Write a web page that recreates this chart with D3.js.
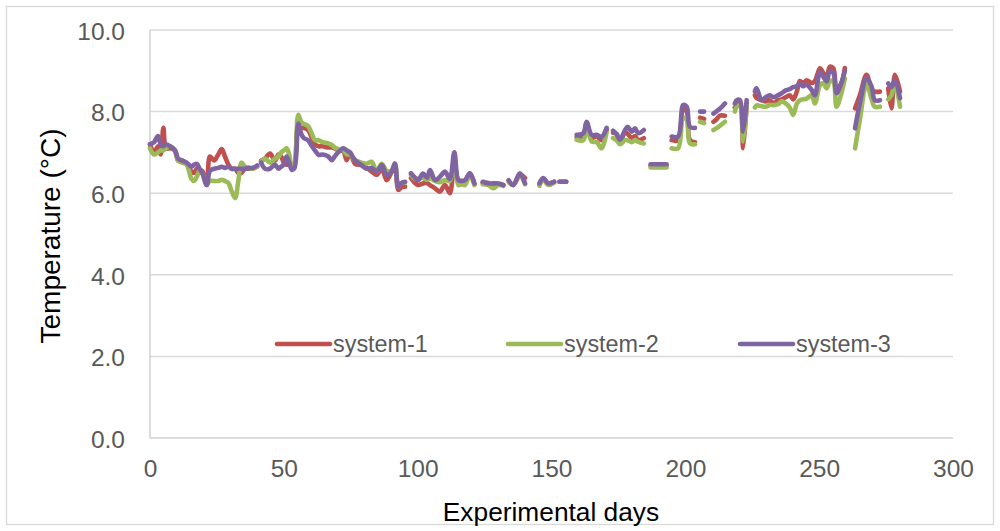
<!DOCTYPE html>
<html><head><meta charset="utf-8">
<script src="https://cdn.jsdelivr.net/npm/d3@7"></script>
<style>body{margin:0;background:#fff}svg{display:block}</style>
</head><body>
<svg id="c" width="1000" height="531"></svg>
<script>
const days = [0,1.5,3,4,5,6,7.5,9.3,10.5,12,13.7,15.5,16.5,17.5,18.5,19.5,21.2,22.4,24,25.5,26.8,28,29.3,30.5,31.8,33,34.2,35.5,37,38.5,40,40.7,
41.5,43,44.8,46.7,48,49,50,51,52,53,54,55.4,56.5,57.5,59,60.5,61.6,63,64.5,66.6,67.9,69,70.3,72.2,73.5,74.7,76.6,79,81,82.8,84.7,86.6,88.4,90.3,91.5,92.8,94,95.3,96.3,
97.5,99,100.2,102,103.5,104.6,106.5,108.3,110.2,112,113.7,115.2,116.5,117.7,119.5,121.2,122.5,
124.3,126.4,128.2,130.1,132,133,
134,135.7,138.2,140.1,142,
145.5,146.9,148.8,151,152,
153,155.5,157,
159.4,161.9,163.1,165,166.9,168.7,170.6,171.8,
173,174.3,175.6,177.5,178.5,180,181.2,182.4,184.5,185.8,
187,193,194,
194.9,197.3,199.2,200.5,201.7,203.6,204.5,
205.5,207,209,
210.5,211.5,212.9,214.8,216.5,
218.5,219.2,220.4,221.6,222.9,224.5,
226,226.6,228.5,230,231.5,233,234.6,236,237.5,239,240.3,241.7,242.8,244,245.3,247.2,248.4,250.3,251.5,252.8,254,255.3,256.5,258.3,259.6,261,
263.4,265.2,267.7,269.6,270.8,272.7,274,
275.8,277,278.3,280.2];

const system1 = [7.2,7.0,7.15,6.95,7.6,7.1,7.1,7.05,6.8,6.8,6.72,6.53,6.5,6.6,6.5,6.55,6.2,6.9,6.8,6.95,7.08,6.9,6.7,6.6,6.6,6.5,6.5,6.6,6.6,6.62,6.65,null,
6.8,6.85,6.97,6.8,6.95,6.9,6.75,6.7,6.7,6.65,6.7,7.63,7.6,7.6,7.55,7.35,7.2,7.15,7.15,7.12,7.12,7.1,7.05,7.03,6.81,7.0,6.72,6.69,6.62,6.53,6.45,6.6,6.32,6.53,6.7,6.08,6.15,6.16,null,
6.37,6.25,6.2,6.24,6.25,6.2,6.12,6.04,6.2,6.0,6.65,6.32,6.3,6.28,6.48,6.22,null,
6.25,6.25,6.15,6.22,6.2,null,
6.3,6.2,6.45,6.37,null,
6.22,6.35,6.24,6.28,null,
6.28,6.28,null,
7.37,7.4,7.7,7.35,7.4,7.3,7.55,null,
7.48,7.45,7.25,7.5,7.45,7.35,7.4,7.3,7.35,null,
6.68,6.68,null,
7.3,7.3,8.05,8.0,7.3,7.25,null,
7.85,7.82,null,
7.75,7.8,7.9,7.9,null,
8.1,8.15,8.2,7.1,8.2,null,
8.4,8.33,8.28,8.25,8.28,8.2,8.28,8.3,8.35,8.4,8.3,8.5,8.75,8.7,8.77,8.7,8.75,9.06,8.95,8.85,9.1,9.06,8.55,8.7,9.07,null,
8.08,8.4,8.9,8.55,8.49,8.49,null,
8.57,8.08,8.9,8.49];

const system2 = [7.1,6.95,7.0,7.05,7.05,7.1,7.15,7.05,6.8,6.75,6.7,6.35,6.3,6.4,6.55,6.5,6.22,6.3,6.3,6.3,6.33,6.3,6.25,6.05,5.88,6.3,6.75,6.65,6.62,6.6,6.65,null,
6.77,6.85,6.75,6.85,6.9,7.0,7.05,7.1,6.95,6.6,6.7,7.92,7.75,7.7,7.65,7.45,7.3,7.3,7.25,7.22,7.18,7.12,7.08,7.05,6.95,6.95,6.81,6.75,6.72,6.77,6.53,6.72,6.55,6.55,6.7,6.16,6.25,6.26,null,
6.45,6.35,6.36,6.37,6.33,6.37,6.3,6.27,6.32,6.3,6.85,6.2,6.22,6.2,6.45,6.2,null,
6.22,6.2,6.12,6.2,6.18,null,
6.28,6.2,6.42,6.22,null,
6.18,6.33,6.2,6.26,null,
6.28,6.28,null,
7.31,7.3,7.63,7.27,7.25,7.1,7.5,null,
7.35,7.3,7.2,7.3,7.3,7.25,7.3,7.26,7.22,null,
6.63,6.63,null,
7.1,7.1,7.84,7.8,7.22,7.2,null,
7.75,7.72,null,
7.55,7.59,7.65,7.75,null,
8.0,8.12,8.15,7.27,8.15,null,
8.1,8.15,8.13,8.12,8.16,8.16,8.18,8.25,8.2,8.1,7.92,8.2,8.28,8.3,8.32,8.4,8.2,8.65,8.7,8.57,8.75,8.73,8.12,8.45,8.81,null,
7.1,7.8,8.69,8.3,8.12,8.12,null,
8.3,8.4,8.69,8.12];

const system3 = [7.2,7.25,7.4,7.2,7.15,7.2,7.15,7.05,6.85,6.8,6.75,6.65,6.7,6.72,6.6,6.5,6.2,6.55,6.6,6.62,6.65,6.62,6.65,6.6,6.6,6.6,6.6,6.6,6.62,6.62,6.68,null,
6.75,6.6,6.6,6.7,6.6,6.65,6.7,6.9,6.75,6.57,6.62,7.71,7.45,7.35,7.3,7.15,7.05,6.94,6.95,6.9,6.81,6.9,7.0,7.1,7.05,7.0,6.81,6.69,6.6,6.62,6.53,6.69,6.45,6.53,6.73,6.16,6.25,6.28,null,
6.49,6.38,6.32,6.48,6.38,6.57,6.32,6.4,6.53,6.35,7.0,6.32,6.3,6.32,6.49,6.24,null,
6.28,6.24,6.24,6.24,6.2,null,
6.32,6.2,6.49,6.24,null,
6.24,6.37,6.24,6.28,null,
6.28,6.28,null,
7.43,7.47,7.75,7.43,7.43,7.38,7.6,null,
7.53,7.45,7.31,7.55,7.63,7.51,7.59,7.47,7.55,null,
6.71,6.71,null,
7.39,7.39,8.16,8.12,7.63,7.6,null,
8.0,8.0,null,
7.95,8.0,8.07,8.2,null,
8.2,8.28,8.28,7.51,8.28,null,
8.5,8.57,8.28,8.35,8.4,8.35,8.4,8.45,8.52,8.55,8.6,8.62,8.69,8.62,8.66,8.53,8.4,8.97,8.86,8.74,9.0,8.95,8.45,8.7,9.0,null,
7.59,8.2,8.82,8.61,8.28,8.28,null,
8.69,8.6,8.77,8.33];

const seriesNames = ["system-1","system-2","system-3"];
const seriesColors = ["#C0504D","#9BBB59","#8064A2"];
const yTicks = [0,2,4,6,8,10];
const xTicks = [0,50,100,150,200,250,300];

[system1,system2,system3].forEach((s,k)=>{
  if (s.length !== days.length) throw new Error("length mismatch series "+(k+1)+": "+s.length+" vs "+days.length);
});

const svg = d3.select("#c");
const W = 1000, H = 531;
const mLeft = 150, mRight = 953, mTop = 30, mBottom = 438;
const x = d3.scaleLinear().domain([0,300]).range([mLeft,mRight]);
const y = d3.scaleLinear().domain([0,10]).range([mBottom,mTop]);
const font = "'Liberation Sans', Arial, sans-serif";

svg.append("rect").attr("x",6.5).attr("y",6.5).attr("width",W-13).attr("height",H-13)
  .attr("fill","#fff").attr("stroke","#d9d9d9").attr("stroke-width",1.3);

svg.append("g").selectAll("line").data(yTicks.filter(d=>d>0)).join("line")
  .attr("x1",mLeft).attr("x2",mRight).attr("y1",d=>y(d)).attr("y2",d=>y(d))
  .attr("stroke","#d9d9d9").attr("stroke-width",1.5);

svg.append("line").attr("x1",mLeft).attr("x2",mLeft).attr("y1",mTop).attr("y2",mBottom)
  .attr("stroke","#d0d0d0").attr("stroke-width",1.5);
svg.append("line").attr("x1",mLeft).attr("x2",mRight).attr("y1",mBottom).attr("y2",mBottom)
  .attr("stroke","#d0d0d0").attr("stroke-width",1.5);

const yAxis = d3.axisLeft(y).tickValues(yTicks).tickFormat(d3.format(".1f")).tickSize(0).tickPadding(25);
const gy = svg.append("g").attr("transform",`translate(${mLeft},0)`).call(yAxis);
gy.select(".domain").remove();
gy.selectAll("text").attr("font-family",font).attr("font-size",24.5).attr("fill","#595959").attr("dy","0.38em");

const xAxis = d3.axisBottom(x).tickValues(xTicks).tickFormat(d3.format("d")).tickSize(0).tickPadding(22);
const gx = svg.append("g").attr("transform",`translate(0,${mBottom})`).call(xAxis);
gx.select(".domain").remove();
gx.selectAll("text").attr("font-family",font).attr("font-size",24.5).attr("fill","#595959");

svg.append("text").attr("transform",`translate(60,236) rotate(-90)`).attr("text-anchor","middle")
  .attr("font-family",font).attr("font-size",28).attr("fill","#000").text("Temperature (°C)");
svg.append("text").attr("x",551).attr("y",521).attr("text-anchor","middle")
  .attr("font-family",font).attr("font-size",26.3).attr("fill","#000").text("Experimental days");

const all = [system1, system2, system3];
all.forEach((vals,k)=>{
  const pts = days.map((d,i)=>[d, vals[i]]);
  const line = d3.line().defined(p=>p[1]!=null).x(p=>x(p[0])).y(p=>y(p[1])).curve(d3.curveCatmullRom.alpha(0.5));
  svg.append("path").datum(pts).attr("d",line).attr("fill","none")
    .attr("stroke",seriesColors[k]).attr("stroke-width",4.6).attr("stroke-linecap","round").attr("stroke-linejoin","round");
});

const legX = [277,508,740];
seriesNames.forEach((n,k)=>{
  const g = svg.append("g");
  g.append("line").attr("x1",legX[k]).attr("x2",legX[k]+53).attr("y1",344).attr("y2",344)
    .attr("stroke",seriesColors[k]).attr("stroke-width",4.6).attr("stroke-linecap","round");
  g.append("text").attr("x",legX[k]+56).attr("y",344).attr("dy","0.36em")
    .attr("font-family",font).attr("font-size",23.4).attr("fill","#595959").text(n);
});
</script>
</body></html>
